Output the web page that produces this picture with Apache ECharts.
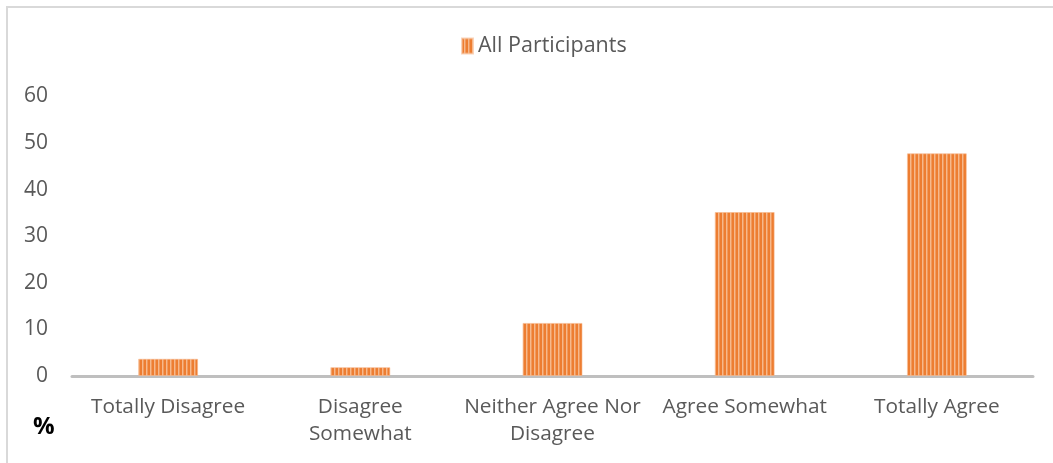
<!DOCTYPE html>
<html>
<head>
<meta charset="utf-8">
<script src="https://cdn.jsdelivr.net/npm/echarts@6/dist/echarts.min.js"></script>
<style>
  html, body { margin: 0; padding: 0; background: #fff; }
  #c1 { width: 1053px; height: 463px; }
</style>
</head>
<body>
<div id="c1"></div>
<script>
var categories = [
  "Totally Disagree",
  "Disagree\nSomewhat",
  "Neither Agree Nor\nDisagree",
  "Agree Somewhat",
  "Totally Agree"
];
var seriesName = "All Participants";
var values = [3.7, 1.9, 11.4, 35.2, 47.8];
var yTicks = [0, 10, 20, 30, 40, 50, 60];

// vertical stripes like the original fill
function stripes() {
  var c = document.createElement("canvas");
  c.width = 4;
  c.height = 4;
  var ctx = c.getContext("2d");
  ctx.fillStyle = "#ED7D31";
  ctx.fillRect(0, 0, 4, 4);
  ctx.fillStyle = "#F6B88C";
  ctx.fillRect(2, 0, 1, 4);
  ctx.fillStyle = "#F19A5C";
  ctx.fillRect(3, 0, 1, 4);
  return c;
}
var pattern = { image: stripes(), repeat: "repeat" };

var myChart = echarts.init(document.getElementById("c1"));
var option = {
  animation: false,
  backgroundColor: "#fff",
  textStyle: { fontFamily: "Open Sans" },
  legend: {
    top: 30,
    left: 456,
    itemWidth: 11,
    itemHeight: 15,
    itemGap: 6,
    textStyle: { color: "#595959", fontSize: 21.5, fontFamily: "Open Sans" },
    data: [{ name: seriesName, icon: "rect", itemStyle: { color: pattern } }]
  },
  grid: { left: 72, right: 20, top: 96.5, bottom: 87 },
  xAxis: {
    type: "category",
    data: categories,
    axisLine: { lineStyle: { color: "#bfbfbf", width: 3 } },
    axisTick: { show: false },
    axisLabel: {
      color: "#595959",
      fontSize: 20.8,
      lineHeight: 27,
      margin: 18,
      interval: 0,
      fontFamily: "Open Sans"
    }
  },
  yAxis: {
    type: "value",
    min: yTicks[0],
    max: yTicks[yTicks.length - 1],
    interval: 10,
    splitLine: { show: false },
    axisLine: { show: false },
    axisTick: { show: false },
    axisLabel: { color: "#595959", fontSize: 21, margin: 24, fontFamily: "Open Sans" }
  },
  series: [
    {
      name: seriesName,
      type: "bar",
      data: values,
      barWidth: 60,
      itemStyle: { color: pattern, borderColor: "rgba(246,184,140,0.6)", borderWidth: 1 }
    }
  ],
  graphic: [
    {
      type: "polyline",
      shape: { points: [[7, 463], [7, 7], [1053, 7]] },
      style: { stroke: "#d9d9d9", lineWidth: 2, fill: null }
    },
    {
      type: "text",
      left: 33,
      top: 415,
      style: { text: "%", fontSize: 24, fontWeight: "bold", fill: "#000", fontFamily: "Open Sans" }
    }
  ]
};
myChart.setOption(option);
window.addEventListener("resize", function () {
  myChart.resize();
});
</script>
</body>
</html>
